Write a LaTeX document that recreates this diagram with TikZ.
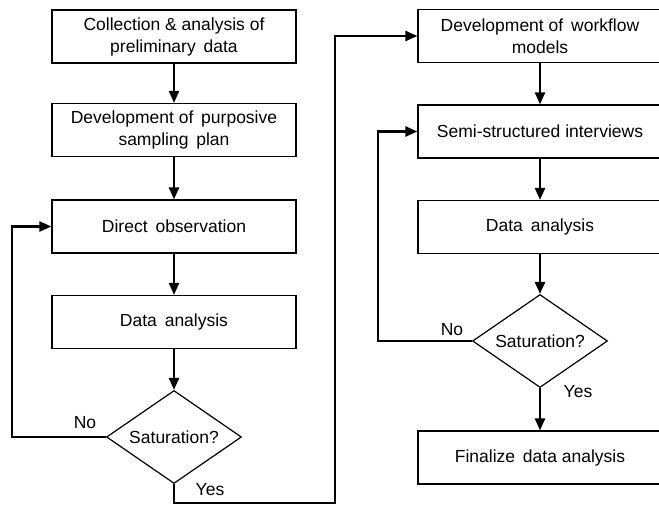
\documentclass[tikz,border=0pt]{standalone}
\usepackage{fontspec}
\setmainfont{Liberation Sans}
\usetikzlibrary{shapes.geometric, arrows.meta, positioning, calc}

\newcommand{\wsp}{\hspace{0.45em}}

\begin{document}
\begin{tikzpicture}[
    x=1pt, y=-1pt,
    stepbox/.style={rectangle, draw, line width=1.2pt, minimum width=244pt, minimum height=53pt, align=center, font=\fontsize{17.5}{22}\selectfont},
    decision/.style={diamond, draw, line width=1.2pt, inner sep=0pt, aspect=1.45, minimum width=135pt, minimum height=93pt, font=\fontsize{17.5}{22}\selectfont},
    flow/.style={line width=2.4pt, -{Triangle[length=12pt, width=10pt]}},
    lbl/.style={font=\fontsize{17.5}{22}\selectfont, inner sep=0pt}
]
    \useasboundingbox (0,0) rectangle (659,505);

    % Colonne gauche
    \node[stepbox] (collect) at (174, 36.5) {Collection \& analysis of\\preliminary\wsp data};
    \node[stepbox] (sampling) at (174, 130) {Development of\wsp purposive\\sampling\wsp plan};
    \node[stepbox] (observe) at (174, 226.5) {Direct\wsp observation};
    \node[stepbox] (analyse1) at (174, 322) {Data\wsp analysis};
    \node[decision] (sat1) at (174, 437) {Saturation?};

    % Colonne droite
    \node[stepbox] (workflow) at (540, 36) {Development of\wsp workflow\\models};
    \node[stepbox] (interview) at (540, 131.5) {Semi-structured interviews};
    \node[stepbox] (analyse2) at (540, 227) {Data\wsp analysis};
    \node[decision] (sat2) at (540, 341) {Saturation?};
    \node[stepbox] (final) at (540, 457.5) {Finalize\wsp data analysis};

    % Flèches verticales
    \draw[flow] (collect) -- (sampling);
    \draw[flow] (sampling) -- (observe);
    \draw[flow] (observe) -- (analyse1);
    \draw[flow] (analyse1) -- (sat1);
    \draw[flow] (workflow) -- (interview);
    \draw[flow] (interview) -- (analyse2);
    \draw[flow] (analyse2) -- (sat2);
    \draw[flow] (sat2) -- (final);

    % Boucle No (gauche)
    \draw[flow] (sat1.west) -- (12, 437) |- (observe.west);
    \node[lbl] (no1) at (85, 423) {No};

    % Sortie Yes -> colonne droite
    \coordinate (yesdown) at (174, 503);
    \draw[flow] (sat1.south) -- (yesdown) -| (335, 36) -- (workflow.west);
    \node[lbl] (yes1) at (210, 490) {Yes};

    % Boucle No (droite)
    \draw[flow] (sat2.west) -- (378, 341) |- (interview.west);
    \node[lbl] (no2) at (452, 330) {No};
    \node[lbl] (yes2) at (578, 392) {Yes};

\end{tikzpicture}
\end{document}
